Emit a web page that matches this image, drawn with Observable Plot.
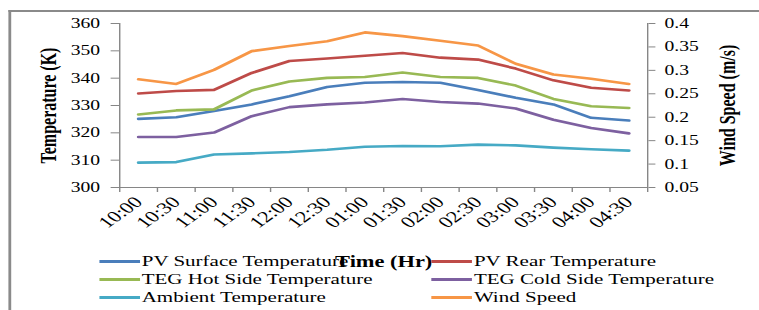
<!DOCTYPE html>
<html>
<head>
<meta charset="utf-8">
<script src="https://cdn.jsdelivr.net/npm/d3@7"></script>
<script src="https://cdn.jsdelivr.net/npm/@observablehq/plot@0.6"></script>
<style>
  html, body { margin: 0; padding: 0; background: #fff; }
  #wrap { position: relative; width: 542px; height: 310px; transform: scaleX(1.4004); transform-origin: 0 0; overflow: hidden; font-family: "Liberation Serif", "Times New Roman", serif; }
  #frame { position: absolute; left: 6.4px; top: 10px; right: -4px; bottom: -4px; border-top: 2px solid #8a8a8a; border-left: 2px solid #8a8a8a; pointer-events: none; }
  #wrap svg { position: absolute; left: 0; top: 0; }
  #wrap svg text { font-family: "Liberation Serif", "Times New Roman", serif; }
  g[aria-label="y-axis label"] text, g[aria-label="x-axis label"] text { font-weight: bold; font-size: 16px; }
  #legend { position: absolute; left: 0; top: 0; width: 542px; height: 310px; pointer-events: none; }
  .item { position: absolute; display: flex; align-items: center; font-family: "Liberation Serif", "Times New Roman", serif; font-size: 15px; color: #000; white-space: nowrap; height: 18px; }
  .swatch { width: 29px; height: 3px; margin-right: 1.5px; }
</style>
</head>
<body>
<div id="wrap"><div id="frame"></div></div>
<script>
const times = ["10:00","10:30","11:00","11:30","12:00","12:30","01:00","01:30","02:00","02:30","03:00","03:30","04:00","04:30"];
const pvSurface = [325.1, 325.7, 328.0, 330.4, 333.4, 336.8, 338.3, 338.6, 338.3, 335.7, 332.8, 330.4, 325.5, 324.5];
const pvRear    = [334.4, 335.3, 335.7, 341.9, 346.3, 347.2, 348.2, 349.2, 347.5, 346.8, 343.5, 339.2, 336.5, 335.5];
const tegHot    = [326.7, 328.2, 328.6, 335.5, 338.8, 340.1, 340.4, 342.1, 340.4, 340.1, 337.3, 332.4, 329.7, 329.1];
const tegCold   = [318.5, 318.5, 320.1, 326.1, 329.4, 330.4, 331.1, 332.4, 331.3, 330.7, 328.9, 324.8, 321.8, 319.8];
const ambient   = [309.1, 309.3, 312.1, 312.5, 313.0, 313.8, 314.9, 315.2, 315.1, 315.7, 315.4, 314.6, 314.0, 313.5];
const windSpeed = [0.281, 0.271, 0.301, 0.341, 0.352, 0.362, 0.381, 0.373, 0.363, 0.353, 0.314, 0.291, 0.282, 0.271];
const seriesNames = ["PV Surface Temperature","PV Rear Temperature","TEG Hot Side Temperature","TEG Cold Side Temperature","Ambient Temperature","Wind Speed"];
const seriesColors = ["#4A7EBB","#BE4B48","#98B954","#7D60A0","#46AAC5","#F79646"];
const tempTicks = [300, 310, 320, 330, 340, 350, 360];
const windTicks = [0.05, 0.1, 0.15, 0.2, 0.25, 0.3, 0.35, 0.4];
const windTickLabels = ["0.05","0.1","0.15","0.2","0.25","0.3","0.35","0.4"];

// secondary axis: wind speed [0.05, 0.4] shares the temperature range [300, 360]
const windToTemp = w => 300 + (w - 0.05) / 0.35 * 60;

const seriesValues = [pvSurface, pvRear, tegHot, tegCold, ambient, windSpeed.map(windToTemp)];
const rows = [];
seriesValues.forEach((vals, s) => vals.forEach((v, i) => rows.push({i, v, series: seriesNames[s]})));

const windTickPos = windTicks.map(windToTemp);
const windLabelAt = new Map(windTickPos.map((p, k) => [p, windTickLabels[k]]));
const boundaries = d3.range(times.length + 1).map(k => k - 0.5);

const axisGray = "#868686";
const chart = Plot.plot({
  width: 542, height: 310,
  marginLeft: 85, marginRight: 80, marginTop: 23, marginBottom: 123,
  style: {fontFamily: "'Liberation Serif', 'Times New Roman', serif", fontSize: "14px", color: "#000", background: "transparent", overflow: "visible"},
  x: {type: "linear", domain: [-0.5, times.length - 0.5]},
  y: {domain: [300, 360]},
  color: {domain: seriesNames, range: seriesColors},
  marks: [
    Plot.ruleX([-0.5, times.length - 0.5], {stroke: axisGray, strokeWidth: 1}),
    Plot.ruleY([300], {stroke: axisGray, strokeWidth: 1}),
    Plot.axisY(tempTicks, {anchor: "left", tickSize: 6, tickPadding: 8, stroke: axisGray, fontSize: 14,
      label: "Temperature (K)", labelArrow: false, labelAnchor: "center", labelOffset: 57}),
    Plot.axisY(windTickPos, {anchor: "right", tickSize: 5, tickPadding: 7, stroke: axisGray, fontSize: 14,
      tickFormat: d => windLabelAt.get(d), label: "Wind Speed (m/s)", labelArrow: false, labelAnchor: "center", labelOffset: 62}),
    Plot.axisX(boundaries, {tickSize: 5, stroke: axisGray, tickFormat: () => "", label: null}),
    Plot.axisX(d3.range(times.length), {tickSize: 0, tickPadding: 12, tickRotate: -45, fontSize: 16,
      tickFormat: i => times[i], label: "Time (Hr)", labelArrow: false, labelAnchor: "center", labelOffset: 79}),
    Plot.line(rows, {x: "i", y: "v", z: "series", stroke: "series", strokeWidth: 2.6, strokeLinejoin: "round"})
  ]
});
document.getElementById("wrap").appendChild(chart);

// legend (HTML, same order and colours as the series)
const legend = document.createElement("div");
legend.id = "legend";
const colX = [70.7, 307.9];
const rowY = [252, 270, 288];
seriesNames.forEach((name, k) => {
  const item = document.createElement("div");
  item.className = "item";
  item.style.left = colX[k % 2] + "px";
  item.style.top = rowY[Math.floor(k / 2)] + "px";
  const sw = document.createElement("span");
  sw.className = "swatch";
  sw.style.background = seriesColors[k];
  const tx = document.createElement("span");
  tx.textContent = name;
  item.appendChild(sw); item.appendChild(tx);
  legend.appendChild(item);
});
document.getElementById("wrap").appendChild(legend);
</script>
</body>
</html>
